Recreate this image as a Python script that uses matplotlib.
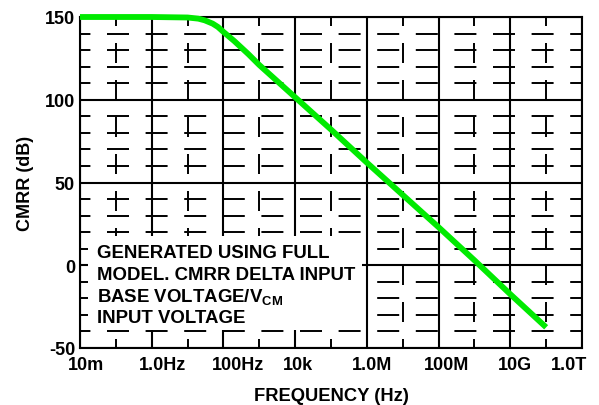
import numpy as np
import matplotlib
matplotlib.use("Agg")
import matplotlib.pyplot as plt
from matplotlib.patches import Rectangle
from matplotlib.transforms import ScaledTranslation

plt.rcParams['font.family'] = ['Liberation Sans', 'DejaVu Sans']
plt.rcParams['font.weight'] = 'bold'
plt.rcParams['mathtext.fontset'] = 'custom'
plt.rcParams['mathtext.rm'] = 'Liberation Sans:bold'
plt.rcParams['mathtext.it'] = 'Liberation Sans:bold'
plt.rcParams['mathtext.bf'] = 'Liberation Sans:bold'
plt.rcParams['lines.scale_dashes'] = False

# CMRR curve
freq_hz = [1e-2, 1e0, 1e1, 2e1, 3e1, 5e1, 7e1, 1e2, 2e2, 5e2,
           1e3, 1e4, 1e5, 1e6, 1e7, 1e8, 1e9, 1e10, 1e11]
cmrr_db = [150, 150, 149.7, 149, 148, 146, 144, 141, 135.5, 127.5,
           121, 101.5, 82, 62, 42.5, 23, 3, -17.5, -37.5]

xtick_vals = [1e-2, 1e0, 1e2, 1e4, 1e6, 1e8, 1e10, 1e12]
xtick_labels = ['10m', '1.0Hz', '100Hz', '10k', '1.0M', '100M', '10G', '1.0T']
ytick_vals = [-50, 0, 50, 100, 150]
ytick_labels = ['-50', '0', '50', '100', '150']
minor_x = [1e-1, 1e1, 1e3, 1e5, 1e7, 1e9, 1e11]
minor_y = [-40, -30, -20, -10, 10, 20, 30, 40, 60, 70, 80, 90,
           110, 120, 130, 140]

note_lines = ['GENERATED USING FULL', 'MODEL. CMRR DELTA INPUT',
              'BASE VOLTAGE/V$_{\\mathrm{CM}}$', 'INPUT VOLTAGE']

fig = plt.figure(figsize=(5.99, 4.06), dpi=100)
ax = fig.add_axes([80/599, 1 - 349/406, 502/599, 331/406])
ax.set_xscale('log')
ax.set_xlim(1e-2, 1e12)
ax.set_ylim(-50, 150)

px = 72 / 100  # points per pixel
for v in xtick_vals:
    ax.axvline(v, color='black', lw=1.5, zorder=2)
for v in ytick_vals:
    ax.axhline(v, color='black', lw=1.5, zorder=2)
for v in minor_x:
    ax.axvline(v, color='black', lw=1.4, zorder=1,
               linestyle=(11*px, (20*px, 17*px)))
for v in minor_y:
    ax.axhline(v, color='black', lw=1.4, zorder=1,
               linestyle=(11.6*px, (22*px, 16.6*px)))

# white note box covering the grid
bx0 = (88 - 80) / 502
bx1 = (362 - 80) / 502
by0 = (349 - 331) / 331
by1 = (349 - 237) / 331
ax.add_patch(Rectangle((bx0, by0), bx1 - bx0, by1 - by0, transform=ax.transAxes,
                       facecolor='white', edgecolor='none', zorder=3))
for i, line in enumerate(note_lines):
    ax.text((97 - 80) / 502, (349 - (253 + 22*i)) / 331, line,
            transform=ax.transAxes, fontsize=13.4, fontweight='bold',
            ha='left', va='center', zorder=4)

ax.plot(freq_hz, cmrr_db, color='#00ea00', lw=4.2, zorder=5,
        clip_on=False, solid_capstyle='butt')

ax.set_xticks(xtick_vals)
ax.set_xticklabels(xtick_labels)
ax.minorticks_off()
ax.set_yticks(ytick_vals)
ax.set_yticklabels(ytick_labels)
ax.tick_params(length=0, labelsize=13, pad=3.6)
ax.tick_params(axis='x', pad=5.5)
for lab, dx in zip(ax.get_xticklabels(), [6, 11, 15, 3, 5, 8, 5, -13]):
    lab.set_fontweight('bold')
    lab.set_transform(lab.get_transform() + ScaledTranslation(dx/100, 0, fig.dpi_scale_trans))
for lab in ax.get_yticklabels():
    lab.set_fontweight('bold')
for s in ax.spines.values():
    s.set_linewidth(1.5)

ax.set_xlabel('FREQUENCY (Hz)', fontsize=13.2, fontweight='bold', labelpad=10)
ax.set_ylabel('CMRR (dB)', fontsize=13, fontweight='bold', labelpad=8)

fig.savefig('out.png', dpi=100)
